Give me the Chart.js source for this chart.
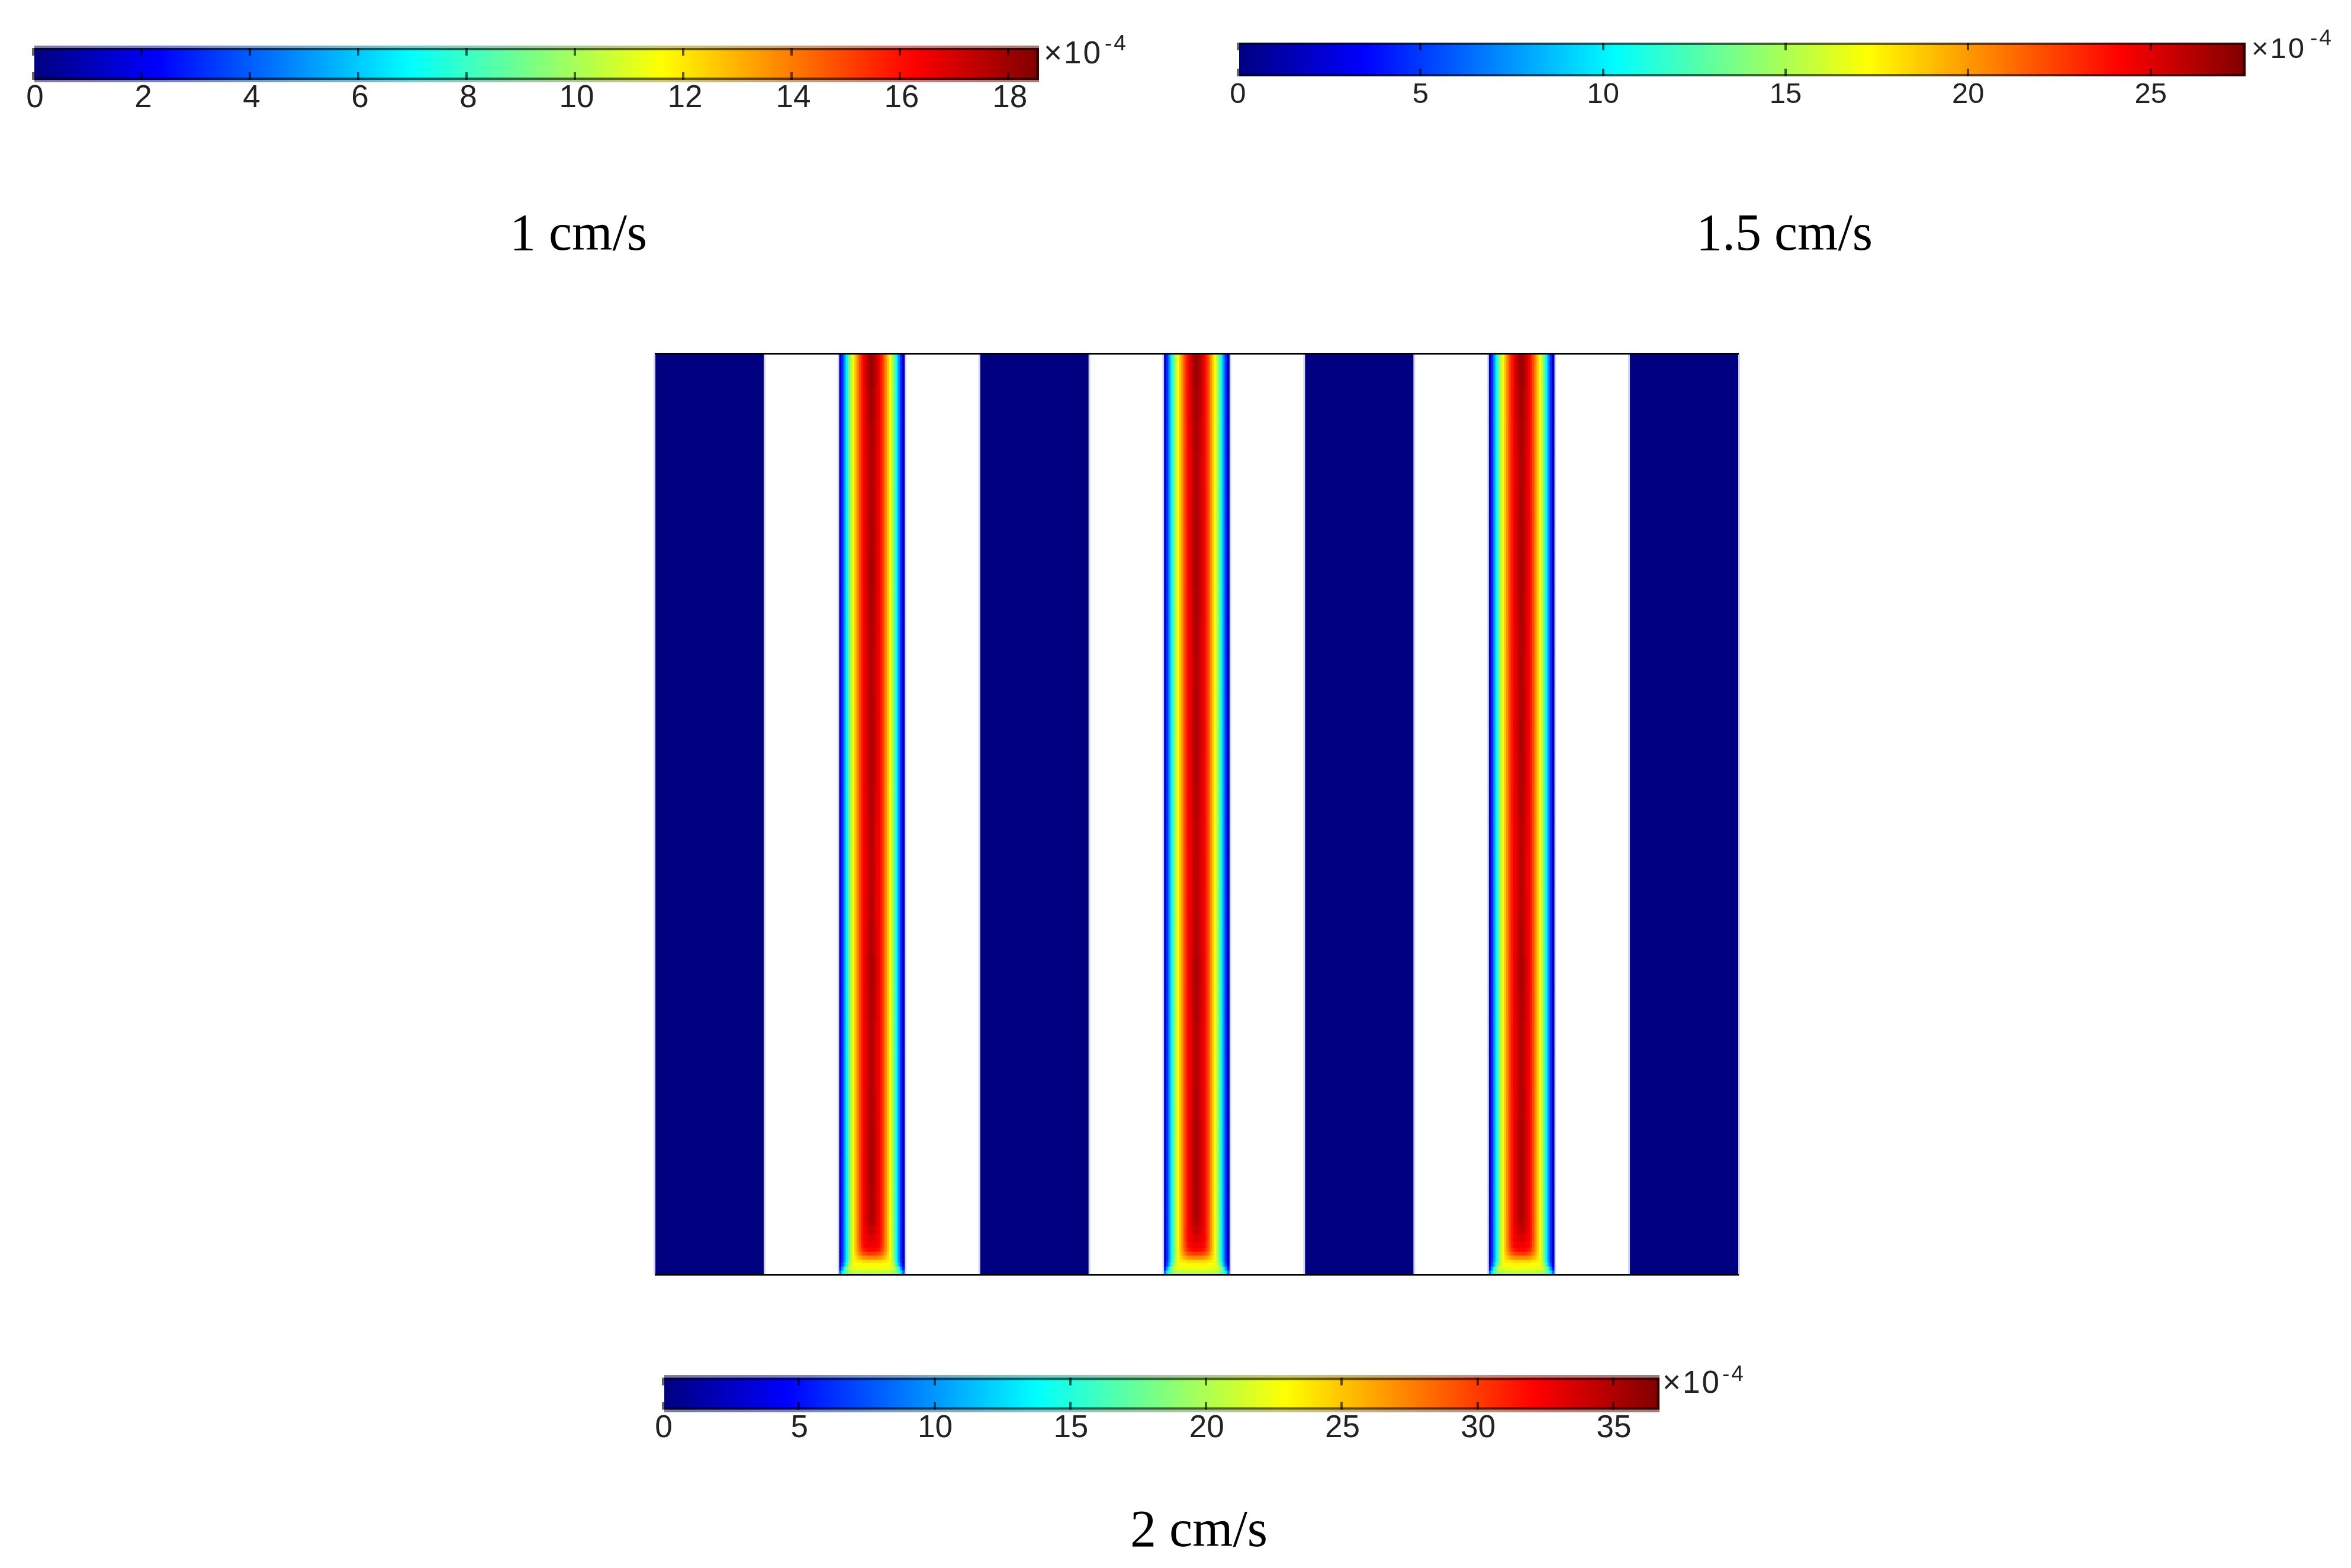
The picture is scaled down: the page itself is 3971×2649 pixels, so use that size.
<!DOCTYPE html>
<html lang="en">
<head>
  <meta charset="utf-8">
  <title>Concentration at 1, 1.5 and 2 cm/s</title>
  <script src="https://cdn.jsdelivr.net/npm/chart.js@4"></script>
  <style>
html, body { margin: 0; padding: 0; background: #fff; }
body { position: relative; width: 3971px; height: 2649px; overflow: hidden; }
canvas { position: absolute; }
.caption, .exp { position: absolute; white-space: nowrap; line-height: 1; }
.caption { font-family: "Liberation Serif", serif; font-size: 88px; color: #000; transform: translateX(-50%); }
.exp { font-family: "Liberation Sans", sans-serif; color: #222; letter-spacing: 3px; }
  </style>
</head>
<body>
  <canvas id="bar1" width="1800" height="140" style="left:0;top:60px"></canvas>
  <canvas id="bar2" width="1871" height="130" style="left:2000px;top:60px"></canvas>
  <canvas id="bar3" width="1800" height="140" style="left:1050px;top:2300px"></canvas>
  <canvas id="plates" width="1849" height="1577" style="left:1097px;top:587px"></canvas>

  <div class="caption" style="left:977px;top:349px">1 cm/s</div>
  <div class="caption" style="left:3014px;top:349px">1.5 cm/s</div>
  <div class="caption" style="left:2025px;top:2539px">2 cm/s</div>

  <div class="exp" style="left:1763px;top:62px;font-size:53px">×10</div>
  <div class="exp" style="left:1866px;top:54px;font-size:37px">-4</div>
  <div class="exp" style="left:3803px;top:57px;font-size:49px">×10</div>
  <div class="exp" style="left:3902px;top:45px;font-size:37px">-4</div>
  <div class="exp" style="left:2808px;top:2308px;font-size:53px">×10</div>
  <div class="exp" style="left:2909px;top:2302px;font-size:37px">-4</div>

  <script type="text/javascript">
// colour bar ranges and tick labels, in units of 10^-4
const bar1Max = 18.57;
const bar1Ticks = [0, 2, 4, 6, 8, 10, 12, 14, 16, 18];
const bar2Max = 27.6;
const bar2Ticks = [0, 5, 10, 15, 20, 25];
const bar3Max = 36.7;
const bar3Ticks = [0, 5, 10, 15, 20, 25, 30, 35];

// geometry of the section: solid plates and flow channels, same length unit on both axes
const sectionWidth = 10;
const sectionHeight = 8.5;
const plateStarts = [0, 3, 6, 9];
const plateWidth = 1;
const channelStarts = [1.7, 4.7, 7.7];
const channelWidth = 0.6;
const columnWidth = 0.02;

// colour value (0..1 of the colour bar) across half a channel, wall to centre
const steadyProfile = [0.07, 0.17, 0.27, 0.37, 0.47, 0.56, 0.62, 0.68, 0.74, 0.80, 0.85, 0.885, 0.91, 0.935, 0.955];

// centre line value along the developed part of the channel, outlet (top) to inlet
const centreLine = [0.97, 0.962, 0.955, 0.95, 0.953, 0.955, 0.958, 0.954, 0.95, 0.948, 0.95, 0.953, 0.95,
  0.946, 0.942, 0.94, 0.942, 0.948, 0.955, 0.952, 0.946, 0.946, 0.95, 0.956, 0.958, 0.955];

// inlet region, bottom row first
const entryTops = [0.036, 0.073, 0.109, 0.137, 0.173, 0.209, 0.246, 0.30, 0.373, 0.446, 0.50];
const entryRows = [
  [0.24, 0.36, 0.43, 0.48, 0.52, 0.54, 0.55, 0.56, 0.56, 0.56, 0.56, 0.56, 0.56, 0.56, 0.56],
  [0.15, 0.28, 0.40, 0.50, 0.56, 0.59, 0.60, 0.60, 0.60, 0.60, 0.61, 0.61, 0.61, 0.61, 0.61],
  [0.10, 0.20, 0.31, 0.42, 0.52, 0.58, 0.61, 0.62, 0.62, 0.62, 0.63, 0.63, 0.63, 0.63, 0.63],
  [0.08, 0.18, 0.28, 0.38, 0.48, 0.56, 0.61, 0.64, 0.65, 0.65, 0.66, 0.67, 0.67, 0.67, 0.67],
  [0.07, 0.17, 0.27, 0.37, 0.47, 0.56, 0.61, 0.65, 0.68, 0.70, 0.72, 0.73, 0.74, 0.74, 0.74],
  [0.07, 0.17, 0.27, 0.37, 0.47, 0.56, 0.62, 0.67, 0.71, 0.75, 0.78, 0.80, 0.81, 0.82, 0.82],
  [0.07, 0.17, 0.27, 0.37, 0.47, 0.56, 0.62, 0.68, 0.73, 0.78, 0.82, 0.85, 0.86, 0.87, 0.87],
  [0.07, 0.17, 0.27, 0.37, 0.47, 0.56, 0.62, 0.68, 0.74, 0.79, 0.84, 0.87, 0.88, 0.89, 0.89],
  [0.07, 0.17, 0.27, 0.37, 0.47, 0.56, 0.62, 0.68, 0.74, 0.80, 0.85, 0.88, 0.89, 0.90, 0.91],
  [0.07, 0.17, 0.27, 0.37, 0.47, 0.56, 0.62, 0.68, 0.74, 0.80, 0.85, 0.88, 0.90, 0.92, 0.93],
  [0.07, 0.17, 0.27, 0.37, 0.47, 0.56, 0.62, 0.68, 0.74, 0.80, 0.85, 0.885, 0.91, 0.93, 0.945]
];

// jet colour map
const jetStops = [
  [0, [0, 0, 128]], [0.125, [0, 0, 255]], [0.375, [0, 255, 255]],
  [0.625, [255, 255, 0]], [0.875, [255, 0, 0]], [1, [128, 0, 0]]
];

function jet(v) {
  for (let i = 1; i < jetStops.length; i++) {
    const [p1, c1] = jetStops[i];
    if (v <= p1) {
      const [p0, c0] = jetStops[i - 1];
      const t = (v - p0) / (p1 - p0);
      return `rgb(${c0.map((c, k) => Math.round(c + (c1[k] - c) * t)).join(',')})`;
    }
  }
  return 'rgb(128,0,0)';
}

Chart.defaults.animation = false;
Chart.defaults.plugins.legend.display = false;
Chart.defaults.plugins.tooltip.enabled = false;
Chart.defaults.responsive = false;
Chart.defaults.devicePixelRatio = 1;

// ---- colour bars ----

function barGradient(chart, barMax, tint, amount) {
  const x = chart.scales.x;
  const x0 = x ? x.getPixelForValue(0) : NaN;
  const x1 = x ? x.getPixelForValue(barMax) : NaN;
  // options get resolved once before the layout has run
  if (!isFinite(x0) || !isFinite(x1)) return 'rgba(0,0,0,0)';
  const g = chart.ctx.createLinearGradient(x0, 0, x1, 0);
  jetStops.forEach(([p, c]) => {
    const m = c.map((ch, k) => Math.round(ch + (tint[k] - ch) * amount));
    g.addColorStop(p, `rgb(${m.join(',')})`);
  });
  return g;
}

function makeColorBar(id, barMax, tickValues, box) {
  const layers = [
    { end: barMax - box.cap, thickness: box.inner, tint: [0, 0, 0], amount: 0 },
    { end: barMax, thickness: box.frame, tint: [0, 0, 0], amount: 0.6 },
    { end: barMax, thickness: box.outer, tint: box.edge, amount: box.edgeAmount }
  ];
  const rim = (box.outer - box.frame) / 2;
  return new Chart(document.getElementById(id), {
    type: 'bar',
    data: {
      labels: ['range'],
      datasets: layers.map(l => ({
        data: [[0, l.end]],
        grouped: false,
        barThickness: l.thickness,
        inflateAmount: 0,
        backgroundColor: (ctx) => barGradient(ctx.chart, barMax, l.tint, l.amount)
      }))
    },
    options: {
      indexAxis: 'y',
      layout: { autoPadding: false, padding: { left: box.left, right: box.right, top: box.top, bottom: 0 } },
      scales: {
        x: {
          type: 'linear', min: 0, max: barMax, position: 'bottom', offset: false,
          afterBuildTicks: (s) => { s.ticks = tickValues.map(v => ({ value: v })); },
          afterFit: (s) => { s.height = box.axisHeight; },
          ticks: {
            autoSkip: false, maxRotation: 0, padding: box.labelGap, labelOffset: box.labelShift, color: '#222',
            font: { family: '"Liberation Sans", sans-serif', size: box.fontSize }
          },
          grid: { z: 1, offset: false, drawTicks: false, color: 'rgba(0,0,0,0.6)', lineWidth: 4 },
          // short tick marks come in from the dark frame, top and bottom
          border: { display: false, dash: [0, rim, 13, box.frame - 26, 13, rim] }
        },
        y: { type: 'category', display: false }
      }
    }
  });
}

makeColorBar('bar1', bar1Max, bar1Ticks, {
  left: 56, right: 45, top: 17, outer: 62, frame: 54, inner: 46, cap: 0.05,
  axisHeight: 61, labelGap: -4, labelShift: 3, fontSize: 53, edge: [176, 176, 176], edgeAmount: 0.7
});
makeColorBar('bar2', bar2Max, bar2Ticks, {
  left: 91, right: 78, top: 12, outer: 57, frame: 57, inner: 49, cap: 0.08,
  axisHeight: 61, labelGap: 2, labelShift: 0, fontSize: 49, edge: [0, 0, 0], edgeAmount: 0.6
});
makeColorBar('bar3', bar3Max, bar3Ticks, {
  left: 70, right: 47, top: 23, outer: 63, frame: 54, inner: 46, cap: 0.09,
  axisHeight: 54, labelGap: -4, labelShift: 1, fontSize: 53, edge: [176, 176, 176], edgeAmount: 0.7
});

// ---- section through plates and channels ----

const fullProfile = [...steadyProfile, ...[...steadyProfile].reverse()];
const columnCentres = channelStarts.flatMap(s => fullProfile.map((_, c) => s + (c + 0.5) * columnWidth));
const developedRowHeight = (sectionHeight - entryTops[entryTops.length - 1]) / centreLine.length;

function cellRow(lo, hi, values) {
  return {
    data: columnCentres.map(x => ({ x, y: [lo, hi] })),
    backgroundColor: channelStarts.flatMap(() => values.map(jet)),
    barThickness: 3.66,
    inflateAmount: 0.5,
    grouped: false
  };
}

const rowDatasets = [];
centreLine.forEach((centre, r) => {
  const hi = sectionHeight - r * developedRowHeight;
  // the mottling of the core only reaches the inner columns
  const values = fullProfile.map((v, c) => {
    const fromWall = Math.min(c, fullProfile.length - 1 - c);
    return fromWall >= 12 ? v + centre - steadyProfile[14] : v;
  });
  rowDatasets.push(cellRow(hi - developedRowHeight, hi, values));
});
entryRows.forEach((row, r) => {
  rowDatasets.push(cellRow(r ? entryTops[r - 1] : 0, entryTops[r], [...row, ...[...row].reverse()]));
});

const sectionFull = [0, sectionHeight];
const plateDataset = {
  data: plateStarts.map(s => ({ x: s + plateWidth / 2, y: sectionFull })),
  backgroundColor: jet(0),
  barThickness: 183,
  inflateAmount: 0,
  grouped: false
};
// the light fringe along each wall
const fringeDataset = {
  data: plateStarts.map(s => ({ x: s + plateWidth / 2, y: sectionFull })),
  backgroundColor: '#d4d4f6',
  barThickness: 189,
  inflateAmount: 0,
  grouped: false,
  clip: false
};
const channelFringeDataset = {
  data: channelStarts.map(s => ({ x: s + channelWidth / 2, y: sectionFull })),
  backgroundColor: '#d4d4f6',
  barThickness: 116,
  inflateAmount: 0,
  grouped: false,
  clip: false
};

const edgeAxis = (position) => ({
  type: 'linear', axis: 'x', position, min: 0, max: sectionWidth, offset: false,
  afterFit: (s) => { s.height = 0; },
  ticks: { display: false },
  grid: { display: false, offset: false, drawTicks: false },
  border: { display: true, color: '#000', width: 3, z: 1 }
});

new Chart(document.getElementById('plates'), {
  type: 'bar',
  data: { datasets: [...rowDatasets, plateDataset, channelFringeDataset, fringeDataset] },
  options: {
    layout: { autoPadding: false, padding: { left: 10, right: 10, top: 10.5, bottom: 10.5 } },
    scales: {
      x: edgeAxis('bottom'),
      xTop: edgeAxis('top'),
      y: { type: 'linear', display: false, min: 0, max: sectionHeight }
    }
  }
});
  </script>
</body>
</html>
